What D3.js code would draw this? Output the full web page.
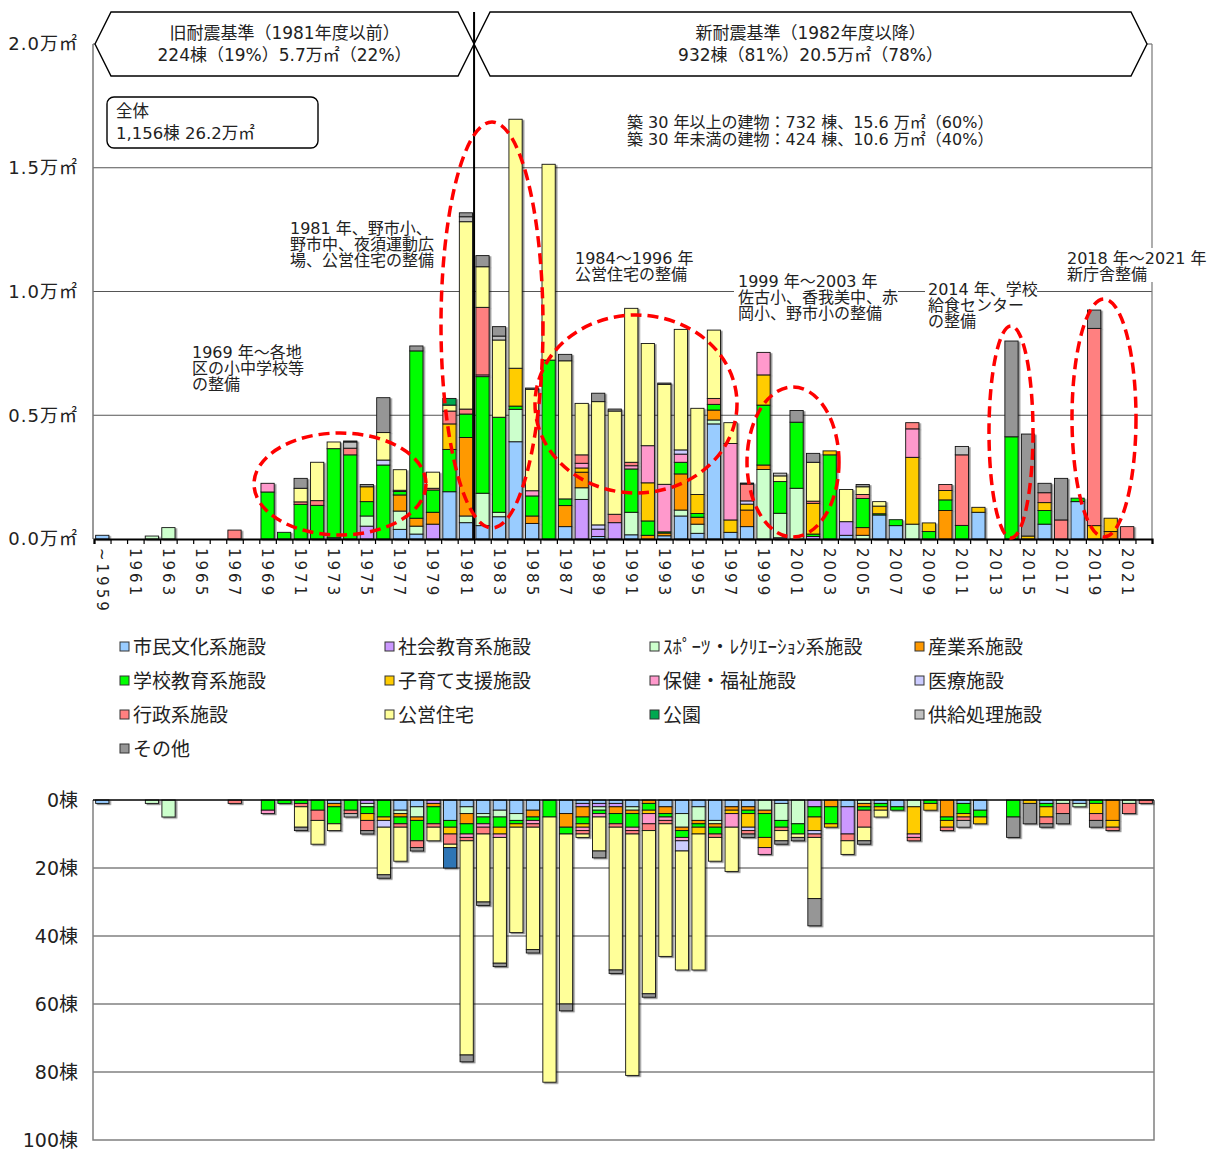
<!DOCTYPE html>
<html><head><meta charset="utf-8">
<script src="https://cdn.jsdelivr.net/npm/d3@7"></script>
<style>
body{margin:0;background:#fff;}
text{font-family:"DejaVu Sans","Noto Sans CJK JP",sans-serif;fill:#222;}
</style></head><body>
<svg id="chart" width="1226" height="1151"></svg>
<script>
// ---- categories (64 slots, last one blank) ----
var years = ["~1959"];
for (var yy = 1960; yy <= 2021; yy++) years.push(String(yy));
years.push("");

var seriesNames = ["市民文化系施設","社会教育系施設","ｽﾎﾟｰﾂ・ﾚｸﾘｴｰｼｮﾝ系施設","産業系施設",
  "学校教育系施設","子育て支援施設","保健・福祉施設","医療施設",
  "行政系施設","公営住宅","公園","供給処理施設","その他"];
var seriesColors = ["#99CCFF","#CC99FF","#CCFFCC","#FF9900","#00FF00","#FFCC00","#FF99CC",
  "#CCCCFF","#FF8080","#FFFF99","#00A850","#C0C0C0","#969696"];

var yTicksTop = [0, 0.5, 1.0, 1.5, 2.0];
var yTicksBottom = [0, 20, 40, 60, 80, 100];

// ---- floor area (万㎡), one array per series ----
var areaCivic = [.015,0,0,0,0,0,0,0, 0,0,0,0,0,0,.005,0, 0,0,.039,.02,0,.191,.066,.054,
  .09,.393,.063,0,.05,0,.01,0, .017,0,.013,.093,.023,.465,.027,.05, 0,0,0,0,0,.015,0,.097,
  .054,0,0,0,0,.108,0,0, 0,.06,0,.151,0,0,0,0];
var areaSocial = [0,0,0,0,0,0,0,0, 0,0,0,0,0,0,0,0, .052,0,0,0,.06,0,0,0,
  0,0,0,0,0,.16,.03,.066, 0,0,0,0,0,0,0,0, 0,.005,0,.01,0,.055,0,0,
  0,0,0,0,0,0,0,0, 0,0,0,0,0,0,0,0];
var areaSports = [0,0,0,.012,.046,0,0,0, 0,0,0,0,0,0,0,0, .041,0,.074,.032,0,0,.027,.131,
  .018,.131,0,0,0,.047,0,0, .091,0,0,.024,.037,.016,0,0, .281,.099,.205,0,0,0,.015,0,
  0,.06,0,0,0,0,0,0, 0,0,0,0,0,0,0,0];
var areaIndustry = [0,0,0,0,0,0,0,0, 0,0,0,0,0,0,0,0, 0,0,.065,.032,.048,0,.317,0,
  0,0,.03,0,.085,.063,0,0, 0,.015,.011,.146,.028,.04,0,.067, .018,0,0,0,0,0,.031,0,
  0,0,0,.115,0,0,0,0, 0,0,0,0,0,.03,0,0];
var areaSchool = [0,0,0,0,0,0,0,0, 0,0,.19,.027,.14,.136,.36,.34, .058,.299,.014,.676,.09,.171,.095,.471,
  .384,.013,.081,.723,.027,0,0,0, .175,.058,.005,.047,.015,.023,0,0, .242,.128,.267,.01,.34,0,.118,.005,
  .024,0,.03,.043,.055,0,0,.413, 0,.055,0,.014,0,0,0,0];
var areaChild = [0,0,0,0,0,0,0,0, 0,0,0,0,0,0,0,0, .06,0,0,0,0,.103,0,0,
  0,.153,0,0,0,.017,0,0, 0,.154,0,0,.077,0,.05,.024, .122,0,0,.124,.016,0,0,.031,
  0,.27,.035,.038,0,.02,0,0, .012,.032,0,0,.054,.054,0,0];
var areaWelfare = [0,0,0,0,0,0,0,0, 0,0,.035,0,0,0,0,0, 0,0,0,0,0,0,0,.007,
  0,0,.021,0,0,.019,0,0, .013,.15,.192,.033,0,0,.309,0, .091,0,0,0,0,0,0,0,
  0,.115,0,0,0,0,0,0, 0,0,0,0,0,0,0,0];
var areaMedical = [0,0,0,0,0,0,0,0, 0,0,0,0,0,0,0,0, 0,.02,0,0,0,0,0,0,
  0,0,0,0,0,0,.017,0, 0,0,0,.017,0,0,0,.013, 0,0,0,0,0,0,0,0,
  0,0,0,0,0,0,0,0, 0,0,0,0,0,0,0,0];
var areaAdmin = [0,0,0,0,0,0,0,0, .036,0,0,0,.01,.019,0,.027, 0,0,.005,0,.007,.052,.02,.273,
  0,0,0,0,0,.034,0,.034, .014,0,0,0,0,.024,0,.068, 0,0,0,.009,0,0,.016,0,
  0,.025,0,.024,.285,0,0,0, 0,.04,.077,0,.797,0,.05,0];
var areaHousing = [0,0,0,0,0,0,0,0, 0,0,0,0,.055,.155,.027,0, 0,.111,.083,0,.065,.024,.757,.164,
  .312,1.006,.41,.791,.558,.208,.498,.417, .622,.413,.404,.487,.348,.276,.084,0, 0,.023,0,.157,0,.13,.031,.018,
  0,0,0,0,0,0,0,0, 0,0,0,0,0,0,0,0];
var areaPark = [0,0,0,0,0,0,0,0, 0,0,0,0,0,0,0,0, 0,0,0,0,0,.027,0,0,
  0,0,0,0,0,0,0,0, 0,0,0,0,0,0,0,0, 0,0,0,0,0,0,0,0,
  0,0,0,0,0,0,0,0, 0,0,0,0,0,0,0,0];
var areaSupply = [0,0,0,0,0,0,0,0, 0,0,0,0,0,0,0,.025, 0,0,0,0,0,0,.02,0,
  .016,0,0,0,0,0,0,0, 0,0,0,0,0,0,0,0, 0,.011,0,0,0,0,0,0,
  0,0,0,0,.034,0,0,0, 0,0,0,0,0,0,0,0];
var areaOther = [0,0,0,0,0,0,0,0, 0,0,0,0,.04,0,0,.004, .009,.141,0,.02,0,0,.016,.045,
  .038,0,.005,0,.026,0,.034,.008, 0,0,.005,0,0,0,0,.004, 0,0,.047,.036,0,0,.009,0,
  0,0,0,0,0,0,0,.387, .412,.038,.168,0,.074,0,0,0];

// ---- number of buildings (棟), one array per series ----
var cntCivic = [1,0,0,0,0,0,0,0, 0,0,0,0,0,0,1,0, 0,0,3,2,0,6,2,4,
  3,4,3,0,4,1,1,1, 2,0,2,4,2,6,2,2, 0,1,0,0,0,2,0,1,
  2,0,0,0,1,3,0,0, 0,1,0,1,0,0,0,0];
var cntSocial = [0,0,0,0,0,0,0,0, 0,0,0,0,0,0,0,0, 1,0,0,0,1,0,0,0,
  0,0,0,0,0,1,1,1, 0,0,0,0,0,0,0,0, 0,0,0,2,0,8,0,0,
  0,0,0,0,0,0,0,0, 0,0,0,0,0,0,0,0];
var cntSports = [0,0,0,1,5,0,0,0, 0,0,0,0,0,0,0,0, 1,0,1,3,0,0,2,1,
  2,2,0,0,0,0,1,0, 1,0,0,4,4,1,0,0, 3,5,7,0,0,0,1,0,
  0,2,0,0,0,0,0,0, 0,0,1,1,0,0,1,0];
var cntIndustry = [0,0,0,0,0,0,0,0, 0,0,0,0,0,0,1,0, 0,0,1,1,1,0,3,0,
  0,0,2,0,4,3,0,2, 1,1,2,1,1,1,1,1, 1,0,0,0,2,0,1,0,
  0,0,0,5,0,0,0,0, 0,0,0,0,0,6,0,0];
var cntSchool = [0,0,0,0,0,0,0,0, 0,0,3,1,1,3,5,3, 2,5,2,6,5,2,3,2,
  3,1,1,5,2,2,1,3, 4,2,1,2,1,2,0,1, 7,2,3,3,5,0,1,1,
  1,0,1,1,3,2,0,5, 0,1,0,0,1,0,0,0];
var cntChild = [0,0,0,0,0,0,0,0, 0,0,0,0,0,0,0,0, 2,1,0,0,0,2,0,0,
  2,1,0,0,0,1,0,0, 0,1,0,0,2,0,1,4, 3,0,0,4,1,0,0,1,
  0,8,2,2,1,2,0,0, 1,3,0,0,3,2,0,0];
var cntWelfare = [0,0,0,0,0,0,0,0, 0,0,1,0,0,0,0,0, 0,0,0,0,0,0,1,1,
  1,0,1,0,0,1,1,0, 1,3,1,1,0,0,4,0, 2,0,0,0,0,0,0,0,
  0,1,0,0,0,0,0,0, 0,0,0,0,0,0,0,0];
var cntMedical = [0,0,0,0,0,0,0,0, 0,0,0,0,0,0,0,0, 0,2,0,0,0,0,0,0,
  0,0,0,0,0,0,0,0, 0,0,0,3,0,0,0,1, 0,0,0,1,0,0,0,0,
  0,0,0,0,0,0,0,0, 0,0,0,0,0,0,0,0];
var cntAdmin = [0,0,0,0,0,0,0,0, 1,0,0,0,1,3,0,1, 3,0,1,2,1,3,1,2,
  0,0,1,0,0,1,0,1, 1,2,1,0,0,1,0,1, 0,1,0,1,0,2,5,0,
  0,1,0,1,1,0,0,0, 0,2,3,0,2,1,3,1];
var cntHousing = [0,0,0,0,0,0,0,0, 0,0,0,0,6,7,2,0, 0,14,10,0,4,1,63,20,
  37,31,36,78,50,1,10,42, 71,48,39,35,40,7,13,0, 0,3,1,18,0,4,4,2,
  0,0,0,0,0,0,0,0, 0,0,0,0,0,0,0,0];
var cntPark = [0,0,0,0,0,0,0,0, 0,0,0,0,0,0,0,0, 0,0,0,0,0,0,0,0,
  0,0,0,0,0,0,0,0, 0,0,0,0,0,0,0,0, 0,0,0,0,0,0,0,0,
  0,0,0,0,0,0,0,0, 0,0,0,0,0,0,0,0];
var cntSupply = [0,0,0,0,0,0,0,0, 0,0,0,0,0,0,0,1, 0,0,0,0,0,0,0,0,
  0,0,0,0,0,0,0,0, 0,0,0,0,0,0,0,0, 0,0,0,0,0,0,0,0,
  0,0,0,0,2,0,0,0, 0,0,0,0,0,0,0,0];
var cntOther = [0,0,0,0,0,0,0,0, 0,0,0,0,1,0,0,0, 1,1,0,1,0,0,2,1,
  1,0,1,0,2,0,2,1, 0,1,0,0,0,0,0,1, 0,1,1,8,0,0,1,0,
  0,0,0,0,0,0,0,6, 6,1,3,0,2,0,0,0];
var cntUnlisted = [0,0,0,0,0,0,0,0, 0,0,0,0,0,0,0,0, 0,0,0,0,0,6,0,0,
  0,0,0,0,0,0,0,0, 0,0,0,0,0,0,0,0, 0,0,0,0,0,0,0,0,
  0,0,0,0,0,0,0,0, 0,0,0,0,0,0,0,0];

var areaSeries = [areaCivic,areaSocial,areaSports,areaIndustry,areaSchool,areaChild,areaWelfare,
  areaMedical,areaAdmin,areaHousing,areaPark,areaSupply,areaOther];
var cntSeries = [cntCivic,cntSocial,cntSports,cntIndustry,cntSchool,cntChild,cntWelfare,
  cntMedical,cntAdmin,cntHousing,cntPark,cntSupply,cntOther,cntUnlisted];

// ---- setup ----
var svg = d3.select("#chart");
var defs = svg.append("defs");
defs.append("filter").attr("id","shadow").attr("x","-20%").attr("y","-5%").attr("width","150%").attr("height","115%")
  .append("feDropShadow").attr("dx",1.6).attr("dy",1.2).attr("stdDeviation",0.6)
  .attr("flood-color","#000").attr("flood-opacity",0.45);

var keys = d3.range(14);
function makeRows(list) {
  return years.map(function(y, i) {
    var r = {idx: i};
    keys.forEach(function(k) { r[k] = list[k] ? list[k][i] : 0; });
    return r;
  });
}
var colorOf = function(k) { return k < 13 ? seriesColors[k] : "#2E74B5"; };

// multi-line text block as one <text> with tspans
function textBlock(px, py, lines, size, lh, anchor) {
  var t = svg.append("text").attr("x", px).attr("y", py).style("font-size", size + "px")
    .attr("text-anchor", anchor || "start");
  lines.forEach(function(s, k) {
    t.append("tspan").attr("x", px).attr("dy", k === 0 ? 0 : lh).text(s);
  });
  return t;
}

// ================= TOP CHART =================
var TOP = {l: 93, r: 1152, t: 44, b: 539};
var x = d3.scaleBand().domain(d3.range(64)).range([TOP.l + 1, TOP.r])
  .paddingInner(0.2).paddingOuter(0.1);
var xb = d3.scaleLinear().domain([0, 64]).range([TOP.l + 1, TOP.r]);
var y = d3.scaleLinear().domain([0, 2]).range([TOP.b, TOP.t]);

// gridlines
svg.append("g").selectAll("line").data(yTicksTop.slice(1)).join("line")
  .attr("x1", TOP.l).attr("x2", TOP.r).attr("y1", y).attr("y2", y)
  .attr("stroke", "#555").attr("stroke-width", 1);
svg.append("line").attr("x1", TOP.l).attr("x2", TOP.l).attr("y1", TOP.t).attr("y2", TOP.b)
  .attr("stroke", "#777").attr("stroke-width", 1.5);
svg.append("line").attr("x1", TOP.r).attr("x2", TOP.r).attr("y1", TOP.t).attr("y2", TOP.b)
  .attr("stroke", "#777").attr("stroke-width", 1.2);

// y axis labels
var yAxis = d3.axisLeft(y).tickValues(yTicksTop).tickSize(0)
  .tickFormat(function(d) { return d.toFixed(1) + "万㎡"; });
svg.append("g").attr("transform", "translate(" + (TOP.l - 15) + ",0)").call(yAxis)
  .call(function(g) { g.select(".domain").remove(); })
  .selectAll("text").attr("x", 0).style("font-size", "18px").style("letter-spacing", "1px")
  .attr("fill", "#222");

// stacked bars
var topStack = d3.stack().keys(d3.range(13))(makeRows(areaSeries));
var topCols = svg.append("g").attr("filter", "url(#shadow)");
topStack.forEach(function(layer) {
  topCols.append("g").attr("fill", colorOf(layer.key))
    .selectAll("rect").data(layer.filter(function(d) { return d[1] - d[0] > 0; })).join("rect")
    .attr("x", function(d) { return x(d.data.idx); })
    .attr("width", x.bandwidth())
    .attr("y", function(d) { return y(d[1]); })
    .attr("height", function(d) { return y(d[0]) - y(d[1]); })
    .attr("stroke", "#111").attr("stroke-width", 0.9);
});

// x axis: line, tick marks, labels
var xAxisMarks = d3.axisBottom(xb).tickValues(d3.range(0, 65)).tickSize(5).tickFormat("");
svg.append("g").attr("transform", "translate(0," + TOP.b + ")").call(xAxisMarks)
  .call(function(g) {
    g.select(".domain").attr("stroke", "#000").attr("stroke-width", 2.2);
    g.selectAll(".tick line").attr("stroke", "#000").attr("stroke-width", 1.2);
  });
var xAxisLabels = d3.axisBottom(x).tickSize(0)
  .tickValues(d3.range(0, 63, 2)).tickFormat(function(i) { return years[i]; });
svg.append("g").attr("transform", "translate(0," + TOP.b + ")").call(xAxisLabels)
  .call(function(g) { g.select(".domain").remove(); })
  .selectAll("text")
  .attr("transform", "rotate(90)").attr("x", 9).attr("y", 0).attr("dy", "0.36em")
  .style("text-anchor", "start").style("font-size", "15px").style("letter-spacing", "3px")
  .attr("fill", "#222");

// divider line between old / new standard
var divX = x(22) + x.bandwidth() + 1.5;
svg.append("line").attr("x1", divX).attr("x2", divX).attr("y1", 12).attr("y2", TOP.b)
  .attr("stroke", "#000").attr("stroke-width", 2);

// header hexagon boxes
function hexPath(x0, x1, y0, y1, tip) {
  var ym = (y0 + y1) / 2;
  return "M" + x0 + "," + ym + "L" + (x0 + tip) + "," + y0 + "L" + (x1 - tip) + "," + y0 +
    "L" + x1 + "," + ym + "L" + (x1 - tip) + "," + y1 + "L" + (x0 + tip) + "," + y1 + "Z";
}
var headers = [
  {x0: 95, x1: divX, lines: ["旧耐震基準（1981年度以前）", "224棟（19%）5.7万㎡（22%）"]},
  {x0: divX, x1: 1147, lines: ["新耐震基準（1982年度以降）", "932棟（81%）20.5万㎡（78%）"]}
];
headers.forEach(function(h) {
  svg.append("path").attr("d", hexPath(h.x0, h.x1, 12, 76, 16))
    .attr("fill", "#fff").attr("stroke", "#000").attr("stroke-width", 1.4);
  textBlock((h.x0 + h.x1) / 2, 39, h.lines, 17, 22, "middle");
});

// total box
svg.append("rect").attr("x", 107).attr("y", 97).attr("width", 211).attr("height", 51).attr("rx", 7)
  .attr("fill", "#fff").attr("stroke", "#000").attr("stroke-width", 1.4);
textBlock(116, 117, ["全体", "1,156棟 26.2万㎡"], 16.5, 22);

// age summary
textBlock(627, 128, ["築 30 年以上の建物：732 棟、15.6 万㎡（60%）",
  "築 30 年未満の建物：424 棟、10.6 万㎡（40%）"], 16, 17);

// annotations
var notes = [
  {x: 192, y: 358, lines: ["1969 年～各地", "区の小中学校等", "の整備"], bg: false},
  {x: 290, y: 234, lines: ["1981 年、野市小、", "野市中、夜須運動広", "場、公営住宅の整備"], bg: false},
  {x: 575, y: 264, lines: ["1984～1996 年", "公営住宅の整備"], bg: false},
  {x: 738, y: 287, lines: ["1999 年～2003 年", "佐古小、香我美中、赤", "岡小、野市小の整備"], bg: [734, 271, 164, 50]},
  {x: 928, y: 295, lines: ["2014 年、学校", "給食センター", "の整備"], bg: [925, 279, 112, 50]},
  {x: 1067, y: 264, lines: ["2018 年～2021 年", "新庁舎整備"], bg: [1063, 248, 163, 34]}
];
notes.forEach(function(n) {
  if (n.bg) svg.append("rect").attr("x", n.bg[0]).attr("y", n.bg[1]).attr("width", n.bg[2])
    .attr("height", n.bg[3]).attr("fill", "#fff");
  textBlock(n.x, n.y, n.lines, 16, 16);
});

// red dashed ellipses
var ellipses = [
  {cx: 340, cy: 484, rx: 86, ry: 51},
  {cx: 492, cy: 325, rx: 51, ry: 203},
  {cx: 636, cy: 404, rx: 101, ry: 89},
  {cx: 793, cy: 462, rx: 46, ry: 75},
  {cx: 1011, cy: 432, rx: 22, ry: 106},
  {cx: 1104, cy: 418, rx: 32, ry: 119}
];
svg.append("g").selectAll("ellipse").data(ellipses).join("ellipse")
  .attr("cx", function(d) { return d.cx; }).attr("cy", function(d) { return d.cy; })
  .attr("rx", function(d) { return d.rx; }).attr("ry", function(d) { return d.ry; })
  .attr("fill", "none").attr("stroke", "#FF0000").attr("stroke-width", 3.5)
  .attr("stroke-dasharray", "11,6");

// ================= LEGEND =================
var legCols = [120, 385, 650, 915], legRows = [647, 681, 715, 749];
seriesNames.forEach(function(name, k) {
  var lx = legCols[k % 4], ly = legRows[Math.floor(k / 4)];
  svg.append("rect").attr("x", lx).attr("y", ly - 5).attr("width", 9).attr("height", 9)
    .attr("fill", seriesColors[k]).attr("stroke", "#333").attr("stroke-width", 1);
  svg.append("text").attr("x", lx + 13).attr("y", ly).attr("dy", "0.36em")
    .style("font-size", "19px").text(name);
});

// ================= BOTTOM CHART =================
var BOT = {l: 93, r: 1154, t: 800, b: 1140};
var x2 = d3.scaleBand().domain(d3.range(64)).range([BOT.l + 1, BOT.r])
  .paddingInner(0.2).paddingOuter(0.1);
var y2 = d3.scaleLinear().domain([0, 100]).range([BOT.t, BOT.b]);

svg.append("g").selectAll("line").data(yTicksBottom.slice(1, -1)).join("line")
  .attr("x1", BOT.l).attr("x2", BOT.r).attr("y1", y2).attr("y2", y2)
  .attr("stroke", "#808080").attr("stroke-width", 1.3);
svg.append("path")
  .attr("d", "M" + BOT.l + "," + BOT.t + "V" + BOT.b + "H" + BOT.r + "V" + BOT.t)
  .attr("fill", "none").attr("stroke", "#808080").attr("stroke-width", 1.5);

var y2Axis = d3.axisLeft(y2).tickValues(yTicksBottom).tickSize(0)
  .tickFormat(function(d) { return d + "棟"; });
svg.append("g").attr("transform", "translate(" + (BOT.l - 15) + ",0)").call(y2Axis)
  .call(function(g) { g.select(".domain").remove(); })
  .selectAll("text").attr("x", 0).style("font-size", "19px").attr("fill", "#222");

var botStack = d3.stack().keys(keys)(makeRows(cntSeries));
var botCols = svg.append("g").attr("filter", "url(#shadow)");
botStack.forEach(function(layer) {
  botCols.append("g").attr("fill", colorOf(layer.key))
    .selectAll("rect").data(layer.filter(function(d) { return d[1] - d[0] > 0; })).join("rect")
    .attr("x", function(d) { return x2(d.data.idx); })
    .attr("width", x2.bandwidth())
    .attr("y", function(d) { return y2(d[0]); })
    .attr("height", function(d) { return y2(d[1]) - y2(d[0]); })
    .attr("stroke", "#111").attr("stroke-width", 0.9);
});
svg.append("line").attr("x1", BOT.l).attr("x2", BOT.r).attr("y1", BOT.t).attr("y2", BOT.t)
  .attr("stroke", "#000").attr("stroke-width", 1.6);
</script>
</body></html>
